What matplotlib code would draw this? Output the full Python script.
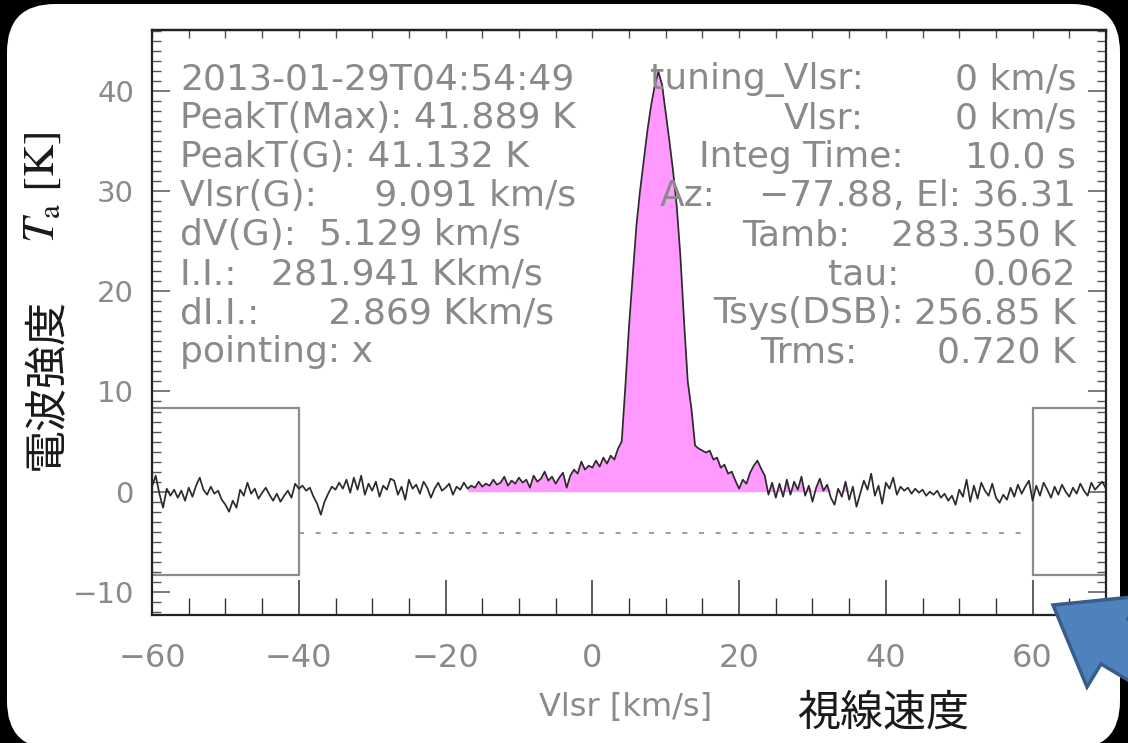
import numpy as np
import matplotlib
matplotlib.use('Agg')
import matplotlib.pyplot as plt
from matplotlib.patches import FancyBboxPatch, Polygon, Rectangle
from matplotlib.ticker import MultipleLocator
from matplotlib.transforms import IdentityTransform

plt.rcParams['font.family'] = ['DejaVu Sans', 'Noto Sans CJK JP']
plt.rcParams['mathtext.fontset'] = 'stix'

# velocity channels (km/s), 0.5 km/s step
vlsr = np.linspace(-60, 70, 261)

# antenna temperature, per segment
ta_m60_m40 = [0.5, 1.6, -0.2, -1.6, 0.3, -0.4, 0.2, -0.6, 0.1, -0.9,
              0.4, -0.5, 0.6, 1.4, 0.2, -0.3, 0.5, -0.2, 0.1, -0.8,
              -1.3, -2.0, -0.9, -1.6, 0.2, -0.4, 0.9, -0.2, 0.3, -0.7,
              -0.1, 0.4, -0.3, -0.9, -0.2, -1.0, -0.4, 0.1, -0.6, 0.8,
              0.3]
ta_m40_m20 = [0.6, 0.1, 0.4, -0.5, -1.2, -2.3, -1.0, -0.2, 0.5, 0.2,
              0.9, 0.3, 1.2, -0.1, 1.4, 0.2, 1.6, -0.3, 0.8, 0.1,
              1.0, -0.5, 0.6, 0.2, 1.3, 1.1, -0.3, 0.5, -0.8, 1.2,
              0.3, 0.7, -0.2, 1.0, 0.4, -0.6, 0.3, 0.9, 0.1, 0.4]
ta_m20_0 = [0.8, -0.3, 0.5, 0.2, 0.9, 0.3, 0.6, 0.4, 1.0, 0.5,
            0.8, 0.6, 1.2, 0.7, 0.9, 1.5, 0.6, 1.1, 0.8, 1.4,
            0.9, 1.2, 0.4, 1.6, 1.0, 1.3, 2.0, 1.1, 1.5, 0.8,
            1.4, 1.9, 0.4, 1.6, 2.2, 1.8, 3.0, 2.2, 2.6, 2.4]
ta_0_15 = [3.1, 2.5, 3.4, 2.8, 3.6, 3.2, 4.3, 5.0, 10.5, 16.5,
           21.5, 26.5, 30.0, 33.0, 36.0, 38.5, 40.5, 41.9, 40.6, 37.8,
           35.0, 32.0, 28.5, 23.5, 17.0, 11.0, 8.3, 4.6, 4.3, 4.1]
ta_15_25 = [3.9, 4.1, 3.2, 3.4, 2.4, 2.7, 1.8, 2.0, 1.1, 0.3,
            1.2, 0.8, 1.9, 2.6, 3.1, 2.3, 1.6, -0.3, 0.9, -0.6]
ta_25_70 = [0.8, -0.5, 1.2, -0.3, 1.0, 0.2, 1.5, -0.4, 0.6, -1.0,
            0.4, 1.3, 0.1, 0.7, -0.6, -1.3, 0.3, -0.5, 1.0, -0.8,
            0.5, -1.5, -0.2, 1.1, 0.2, 1.8, -0.4, 0.6, -1.2, 0.9,
            0.3, 1.4, -0.3, 0.5, 0.1, 0.4, -0.2, 0.3, -0.1, 0.2,
            -0.4, 0.0, -0.3, 0.1, -0.6, -0.2, -0.9, -0.4, -1.3, 0.2,
            -0.5, 1.2, -1.0, 0.6, -0.7, 0.9, 0.1, -0.4, 0.8, -0.6,
            -1.1, -0.3, -0.8, 0.4, -0.5, 0.7, -0.2, 0.5, 1.1, -0.9,
            0.6, -0.4, 0.9, 0.2, -0.6, 0.5, -0.3, 0.7, 0.0, -0.5,
            0.4, -0.2, 0.8, 0.1, -0.4, 0.9, 0.2, 0.6, 1.0, 0.3]
ta = np.array(ta_m60_m40 + ta_m40_m20 + ta_m20_0 + ta_0_15 + ta_15_25 + ta_25_70)

# integration window and baseline windows
integ_range = (-17, 35)
base_windows = [(-60, -40), (60, 70)]
base_box_t = (-8.3, 8.3)
base_level = -4.1

left_info = ['2013-01-29T04:54:49',
             'PeakT(Max): 41.889 K',
             'PeakT(G): 41.132 K',
             'Vlsr(G):     9.091 km/s',
             'dV(G):  5.129 km/s',
             'I.I.:   281.941 Kkm/s',
             'dI.I.:      2.869 Kkm/s',
             'pointing: x']
right_labels = ['tuning_Vlsr:', 'Vlsr:', 'Integ Time:', 'Az:', 'Tamb:', 'tau:',
                'Tsys(DSB):', 'Trms:']
right_values = ['0 km/s', '0 km/s', '10.0 s', '\u221277.88, El: 36.31', '283.350 K',
                '0.062', '256.85 K', '0.720 K']
right_label_x = [0.746, 0.746, 0.788, 0.532, 0.732, 0.783, 0.788, 0.739]

fig = plt.figure(figsize=(11.28, 7.43), dpi=100, facecolor='black')

# white rounded panel
panel = FancyBboxPatch((7, -6), 1113, 745, boxstyle='round,pad=0,rounding_size=48',
                       transform=IdentityTransform(), facecolor='white',
                       edgecolor='none', zorder=-1)
fig.add_artist(panel)

ax = fig.add_axes([0.1348, 0.1723, 0.8457, 0.7873])
ax.set_xlim(-60, 70)
ax.set_ylim(-12.3, 46.06)

sel = (vlsr >= integ_range[0]) & (vlsr <= integ_range[1])
ax.fill_between(vlsr, 0, np.clip(ta, 0, None), where=sel, color='#ff99ff',
                linewidth=0, zorder=1)
ax.plot(vlsr, ta, color='#2b2b2b', lw=1.25, zorder=3)

for x0, x1 in base_windows:
    ax.add_patch(Rectangle((x0, base_box_t[0]), x1 - x0, base_box_t[1] - base_box_t[0],
                           fill=False, edgecolor='#8c8c8c', lw=1.6, zorder=2))
ax.hlines(base_level, base_windows[0][1], base_windows[1][0], colors='#8c8c8c',
          linestyles=(0, (3, 7)), lw=1.2, zorder=2)

# ticks
ax.xaxis.set_major_locator(MultipleLocator(20))
ax.xaxis.set_minor_locator(MultipleLocator(5))
ax.yaxis.set_major_locator(MultipleLocator(10))
ax.yaxis.set_minor_locator(MultipleLocator(1))
ax.tick_params(axis='x', which='major', direction='in', length=25, width=1.1,
               pad=20, labelsize=23, labelcolor='#8a8a8a', color='#333333',
               top=False)
ax.tick_params(axis='x', which='minor', direction='in', length=12, width=1.0,
               color='#333333', top=False)
ax.tick_params(axis='y', which='major', direction='in', length=13, width=1.1,
               pad=13, labelsize=21, labelcolor='#8a8a8a', color='#555555',
               left=True, right=True)
ax.tick_params(axis='y', which='minor', direction='in', length=6.5, width=1.0,
               color='#555555', left=True, right=True)
secx = ax.secondary_xaxis('top')
secx.xaxis.set_major_locator(MultipleLocator(5))
secx.tick_params(direction='in', length=6, width=1.0, color='#555555', labeltop=False)
secx.spines['top'].set_linewidth(1.6)

for s in ax.spines.values():
    s.set_linewidth(1.6)
    s.set_color('#222222')

# info text
tx = dict(transform=ax.transAxes, fontsize=26, color='#8a8a8a', va='baseline')
y0, dy = 0.899, 0.0667
for i, line in enumerate(left_info):
    ax.text(0.0294, y0 - i * dy, line, ha='left', **tx)
for i, (lab, val, lx) in enumerate(zip(right_labels, right_values, right_label_x)):
    if lab == 'Az:':
        ax.text(0.532, y0 - i * dy, lab, ha='left', **tx)
    else:
        ax.text(lx, y0 - i * dy, lab, ha='right', **tx)
    ax.text(0.9686, y0 - i * dy, val, ha='right', **tx)

# axis labels
fig.text(0.555, 0.048, 'Vlsr [km/s]', ha='center', va='center', fontsize=23,
         color='#8a8a8a')
fig.text(0.783, 0.040, '視線速度', ha='center', va='center', fontsize=31,
         color='#1a1a1a', family=['Noto Sans CJK JP'])
fig.text(0.042, 0.483, '電波強度', ha='center', va='center', fontsize=31,
         rotation=90, color='#1a1a1a', family=['Noto Sans CJK JP'])
fig.text(0.037, 0.748, r'$T_{\mathrm{a}}\ [\mathrm{K}]$', ha='center', va='center',
         fontsize=32, rotation=90, color='#1a1a1a')

# blue call-out arrow in the corner
arrow = Polygon([(1053, 138), (1087, 56), (1101, 79), (1316, -49), (1343, -4),
                 (1128, 124), (1142, 147)], closed=True, transform=IdentityTransform(),
                facecolor='#4f81bd', edgecolor='#385d8a', lw=2.5, zorder=5)
fig.add_artist(arrow)

fig.savefig('out.png', dpi=100, facecolor=fig.get_facecolor())
